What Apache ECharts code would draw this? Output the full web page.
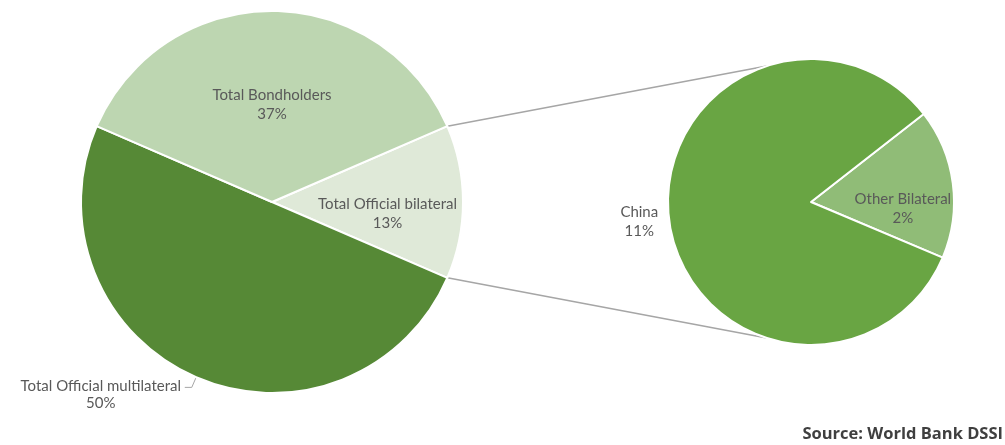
<!DOCTYPE html>
<html>
<head>
<meta charset="utf-8">
<script src="https://cdn.jsdelivr.net/npm/echarts@6/dist/echarts.min.js"></script>
<style>
html,body{margin:0;padding:0;background:#fff;}
#chart{width:1005px;height:445px;}
</style>
</head>
<body>
<div id="chart"></div>
<script>
// Main pie
const mainCategories = ['Total Official bilateral', 'Total Official multilateral', 'Total Bondholders'];
const mainValues = [13, 50, 37];
const mainColors = ['#dfe9d8', '#568936', '#bdd6b1'];
// Breakdown of bilateral
const subCategories = ['Other Bilateral', 'China'];
const subValues = [2.2, 10.8];
const subColors = ['#90bc77', '#69a543'];
const sourceText = 'Source: World Bank DSSI';

const FONT = 'Lato';
const FS = 15;
const TEXT = '#595959';
const mainCenter = [272, 202], mainR = 191;
const subCenter = [811, 202], subR = 143;

const mainTotal = mainValues.reduce((a, b) => a + b, 0);
const mainStart = mainValues[0] / mainTotal * 360 / 2;
const subStart = 38;

function pctLabel(p) { return p.name + '\n' + Math.round(p.value / mainTotal * 100) + '%'; }

const mainData = mainCategories.map((n, i) => {
  const item = { name: n, value: mainValues[i], itemStyle: { color: mainColors[i] } };
  if (i === 0) item.label = { offset: [17, 12] };
  if (i === 2) item.label = { offset: [0, 1] };
  if (i === 1) {
    item.label = {
      position: 'outside',
      formatter: p => '{a|' + p.name + '}\n{a|' + Math.round(p.value / mainTotal * 100) + '%}',
      padding: [15, 0, 0, 0],
      distanceToLabelLine: 1,
      rich: { a: { width: 166, align: 'center', fontSize: FS, fontFamily: FONT, color: TEXT, lineHeight: 17 } }
    };
    item.labelLine = { show: true, length: 11, length2: 7, lineStyle: { color: '#a6a6a6', width: 1 } };
  }
  return item;
});

const subData = subCategories.map((n, i) => {
  const item = { name: n, value: subValues[i], itemStyle: { color: subColors[i] } };
  if (i === 0) item.label = { offset: [18, 16] };
  if (i === 1) {
    item.label = {
      position: 'outside',
      formatter: p => '{a|' + p.name + '}\n{a|' + Math.round(p.value / mainTotal * 100) + '%}',
      distanceToLabelLine: 0,
      rich: { a: { width: 40, align: 'center', fontSize: FS, fontFamily: FONT, color: TEXT, lineHeight: 19 } }
    };
    item.labelLine = { show: false, length: 6, length2: 4 };
  }
  return item;
});

// connector endpoints from pie geometry
function pt(c, r, deg) { const a = deg * Math.PI / 180; return [c[0] + r * Math.cos(a), c[1] - r * Math.sin(a)]; }
const connAngle = 108;
const p1 = pt(mainCenter, mainR, mainStart), p2 = pt(subCenter, subR, connAngle);
const p3 = pt(mainCenter, mainR, -mainStart), p4 = pt(subCenter, subR, -connAngle);

const chart = echarts.init(document.getElementById('chart'));
chart.setOption({
  backgroundColor: '#fff',
  animation: false,
  textStyle: { fontFamily: FONT },
  graphic: [
    { type: 'line', shape: { x1: p1[0], y1: p1[1], x2: p2[0], y2: p2[1] }, style: { stroke: '#a6a6a6', lineWidth: 1.5 }, z: 0 },
    { type: 'line', shape: { x1: p3[0], y1: p3[1], x2: p4[0], y2: p4[1] }, style: { stroke: '#a6a6a6', lineWidth: 1.5 }, z: 0 },
    { type: 'text', right: 2, bottom: 2, style: { text: sourceText, font: 'bold 16.5px "Open Sans"', fill: '#3f3f3f' } }
  ],
  series: [
    {
      type: 'pie', center: mainCenter, radius: mainR, startAngle: mainStart, clockwise: true,
      avoidLabelOverlap: false,
      itemStyle: { borderColor: '#fff', borderWidth: 2 },
      label: { show: true, position: 'inside', formatter: pctLabel, fontSize: FS, fontFamily: FONT, color: TEXT, lineHeight: 19 },
      emphasis: { disabled: true },
      data: mainData
    },
    {
      type: 'pie', center: subCenter, radius: subR, startAngle: subStart, clockwise: true,
      avoidLabelOverlap: false,
      itemStyle: { borderColor: '#fff', borderWidth: 2 },
      label: { show: true, position: 'inside', formatter: pctLabel, fontSize: FS, fontFamily: FONT, color: TEXT, lineHeight: 19 },
      emphasis: { disabled: true },
      data: subData
    }
  ]
});
</script>
</body>
</html>
